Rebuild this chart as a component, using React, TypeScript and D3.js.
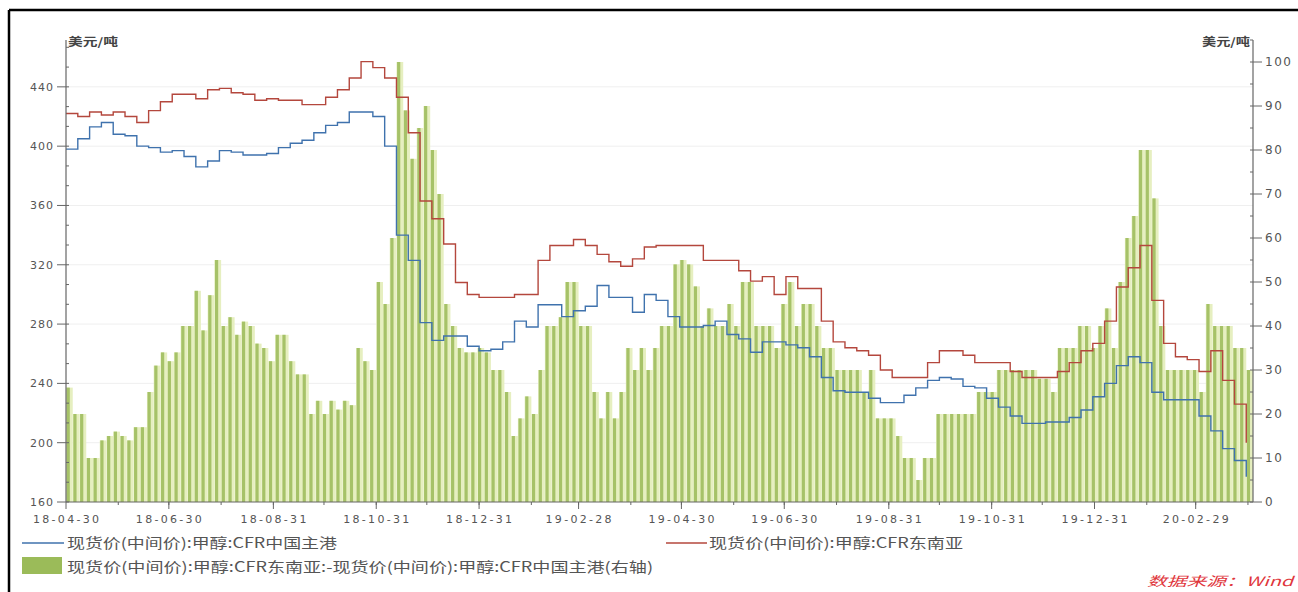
import React from 'react';
import * as d3 from 'd3';

// weekly spot prices, USD/t (left axis)
const cfrSEA = [
  422, 420, 423, 421, 423, 420, 416, 424, 430, 435,
  435, 432, 438, 439, 436, 435, 431, 432, 431, 431,
  428, 428, 433, 438, 446, 457, 453, 446, 433, 409,
  363, 351, 334, 308, 300, 298, 298, 298, 300, 300,
  323, 333, 333, 337, 333, 327, 322, 319, 324, 332,
  333, 333, 333, 333, 323, 323, 323, 316, 309, 312,
  300, 312, 304, 304, 282, 268, 264, 262, 259, 249,
  244, 244, 244, 254, 262, 262, 259, 254, 254, 254,
  248, 244, 244, 244, 248, 254, 262, 267, 282, 305,
  318, 333, 296, 267, 258, 256, 248, 262, 242, 226,
  200,
];
const cfrChina = [
  398, 405, 413, 416, 408, 407, 400, 399, 396, 397,
  393, 386, 390, 397, 396, 394, 394, 395, 399, 402,
  404, 409, 414, 416, 423, 423, 420, 400, 340, 323,
  281, 269, 272, 272, 265, 262, 263, 268, 282, 278,
  293, 293, 285, 289, 292, 306, 298, 298, 288, 300,
  296, 285, 278, 278, 279, 282, 273, 270, 261, 268,
  268, 266, 264, 258, 244, 235, 234, 234, 230, 227,
  227, 232, 237, 242, 244, 243, 238, 237, 230, 224,
  218, 213, 213, 214, 214, 217, 222, 231, 240, 252,
  258, 254, 234, 229, 229, 229, 218, 208, 196, 188,
  177,
];
// spread (right axis), one value every 4 days
const spread = [
  26, 20, 20, 10, 10, 14, 15, 16, 15, 14,
  17, 17, 25, 31, 34, 32, 34, 40, 40, 48,
  39, 47, 55, 40, 42, 38, 41, 40, 36, 35,
  32, 38, 38, 32, 29, 29, 20, 23, 20, 23,
  21, 23, 22, 35, 32, 30, 50, 45, 60, 100,
  89, 78, 85, 90, 80, 70, 45, 40, 35, 34,
  34, 35, 34, 30, 30, 25, 15, 19, 24, 20,
  30, 40, 40, 42, 50, 50, 40, 40, 25, 19,
  25, 19, 25, 35, 30, 35, 30, 35, 40, 40,
  54, 55, 54, 49, 40, 44, 40, 40, 45, 40,
  50, 50, 40, 40, 40, 35, 45, 50, 40, 45,
  45, 40, 35, 35, 30, 30, 30, 30, 25, 30,
  19, 19, 19, 15, 10, 10, 5, 10, 10, 20,
  20, 20, 20, 20, 20, 25, 25, 25, 30, 30,
  30, 30, 30, 30, 28, 28, 25, 35, 35, 35,
  40, 40, 35, 40, 44, 35, 50, 60, 65, 80,
  80, 69, 40, 30, 30, 30, 30, 30, 25, 45,
  40, 40, 40, 35, 35, 30,
];

const xTickLabels = ['18-04-30', '18-06-30', '18-08-31', '18-10-31', '18-12-31', '19-02-28',
  '19-04-30', '19-06-30', '19-08-31', '19-10-31', '19-12-31', '20-02-29'];
const leftTicks = [160, 200, 240, 280, 320, 360, 400, 440];
const rightTicks = [0, 10, 20, 30, 40, 50, 60, 70, 80, 90, 100];

const START = new Date(2018, 3, 30);
const END = new Date(2020, 3, 3);

const W = 1298;
const H = 592;
const L = 66, R = 1253, T = 40, B = 502;

const parse = d3.timeParse('%y-%m-%d');

export default function App() {
  const x = d3.scaleTime().domain([START, END]).range([L, R]);
  const yL = d3.scaleLinear().domain([160, 471.6]).range([B, T]);
  const yR = d3.scaleLinear().domain([0, 105]).range([B, T]);

  const weekDates = cfrSEA.map((_, j) => d3.timeDay.offset(START, 7 * j));
  const barDates = spread.map((_, i) => d3.timeDay.offset(START, 4 * i));
  const step = x(barDates[1]) - x(barDates[0]);

  const line = (vals: number[]) =>
    d3.line<number>()
      .x((_, j) => x(weekDates[j]))
      .y((v) => yL(v))
      .curve(d3.curveStepAfter)(vals) || '';

  const monthEnds = d3.timeMonth.range(d3.timeMonth.offset(START, 1), END)
    .map((m) => d3.timeDay.offset(m, -1));
  const minorLeft = d3.range(160, 472, 40 / 3);
  const minorRight = d3.range(0, 106, 5);

  const axisFont = { fontFamily: 'DejaVu Sans, sans-serif', fontSize: 11, fill: '#555' };
  const cjk = { fontFamily: '"Noto Sans CJK SC", sans-serif', fontSize: 14, fill: '#555' };

  return (
    <div style={{ position: 'absolute', left: 0, top: 0 }}>
      <svg width={W} height={H} style={{ display: 'block', background: '#fff' }}>
        <line x1={9} y1={10} x2={W} y2={10} stroke="#000" strokeWidth={2.5} />
        <line x1={9} y1={10} x2={9} y2={H} stroke="#000" strokeWidth={2.5} />

        {/* faint grid */}
        {leftTicks.slice(1).map((t) => (
          <line key={'g' + t} x1={L} x2={R} y1={yL(t)} y2={yL(t)} stroke="#efefef" />
        ))}

        {/* spread bars */}
        {spread.map((v, i) => (
          <g key={'b' + i}>
            <rect x={x(barDates[i])} y={yR(v)} width={Math.min(step, R - x(barDates[i]))}
              height={B - yR(v)} fill="#e6efc0" />
            <rect x={x(barDates[i]) + 0.6} y={yR(v)} width={3.2} height={B - yR(v)} fill="#a6c268" />
          </g>
        ))}

        <path d={line(cfrChina)} fill="none" stroke="#3f72ad" strokeWidth={1.4} />
        <path d={line(cfrSEA)} fill="none" stroke="#b4473d" strokeWidth={1.4} />

        {/* left axis */}
        <line x1={L} x2={L} y1={T} y2={B} stroke="#666" strokeWidth={1.2} />
        {minorLeft.map((t) => (
          <line key={'ml' + t} x1={L} x2={L + 3} y1={yL(t)} y2={yL(t)} stroke="#666" />
        ))}
        {leftTicks.map((t) => (
          <g key={'l' + t}>
            <line x1={L - 9} x2={L} y1={yL(t)} y2={yL(t)} stroke="#666" />
            <text x={L - 12} y={yL(t) + 4} textAnchor="end" letterSpacing={1} {...axisFont}>{t}</text>
          </g>
        ))}
        <text x={68} y={46} textLength={50} lengthAdjust="spacingAndGlyphs"
          style={{ fontFamily: '"Noto Sans CJK SC", sans-serif', fontSize: 11, fontWeight: 700, fill: '#444' }}>美元/吨</text>

        {/* right axis */}
        <line x1={R} x2={R} y1={T} y2={B} stroke="#666" strokeWidth={1.2} />
        {minorRight.map((t) => (
          <line key={'mr' + t} x1={R - 3} x2={R} y1={yR(t)} y2={yR(t)} stroke="#666" />
        ))}
        {rightTicks.map((t) => (
          <g key={'r' + t}>
            <line x1={R} x2={R + 9} y1={yR(t)} y2={yR(t)} stroke="#666" />
            <text x={R + 12} y={yR(t) + 4} letterSpacing={1.5} {...axisFont} fontSize={12}>{t}</text>
          </g>
        ))}
        <text x={1202} y={46} textLength={48} lengthAdjust="spacingAndGlyphs"
          style={{ fontFamily: '"Noto Sans CJK SC", sans-serif', fontSize: 11, fontWeight: 700, fill: '#444' }}>美元/吨</text>

        {/* x axis */}
        <line x1={L} x2={R} y1={B} y2={B} stroke="#666" strokeWidth={1.2} />
        {monthEnds.map((d, k) => (
          <line key={'mx' + k} x1={x(d)} x2={x(d)} y1={B} y2={B + 3} stroke="#666" />
        ))}
        {xTickLabels.map((s) => {
          const d = parse(s) as Date;
          return (
            <g key={s}>
              <line x1={x(d)} x2={x(d)} y1={B} y2={B + 7} stroke="#666" />
              <text x={x(d) - 33} y={B + 21} textLength={66} lengthAdjust="spacing" {...axisFont}>{s}</text>
            </g>
          );
        })}

        {/* legend */}
        <line x1={22} x2={64} y1={543} y2={543} stroke="#3f72ad" strokeWidth={1.5} />
        <text x={67} y={548} textLength={270} lengthAdjust="spacingAndGlyphs" {...cjk}>现货价(中间价):甲醇:CFR中国主港</text>
        <line x1={666} x2={707} y1={543} y2={543} stroke="#b4473d" strokeWidth={1.5} />
        <text x={709} y={548} textLength={254} lengthAdjust="spacingAndGlyphs" {...cjk}>现货价(中间价):甲醇:CFR东南亚</text>
        <rect x={22} y={557} width={40} height={17} fill="#9bbb59" />
        <text x={67} y={572} textLength={586} lengthAdjust="spacingAndGlyphs" {...cjk}>现货价(中间价):甲醇:CFR东南亚:-现货价(中间价):甲醇:CFR中国主港(右轴)</text>

        <text x={1147} y={586} textLength={146} lengthAdjust="spacingAndGlyphs"
          style={{ fontFamily: '"Noto Sans CJK SC", sans-serif', fontSize: 13, fontStyle: 'italic', fill: '#e0363c' }}>数据来源：Wind</text>
      </svg>
    </div>
  );
}
